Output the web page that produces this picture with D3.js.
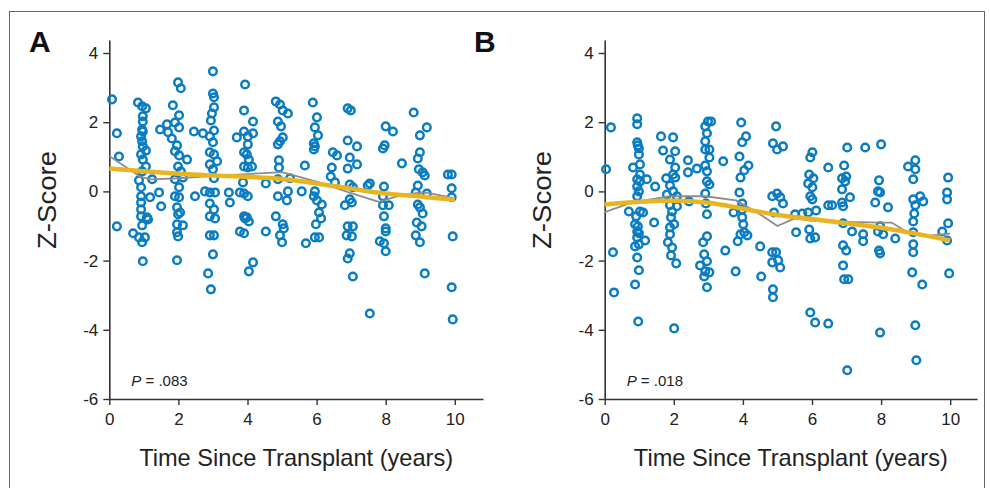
<!DOCTYPE html>
<html><head><meta charset="utf-8">
<script src="https://cdn.jsdelivr.net/npm/d3@7"></script>
<style>html,body{margin:0;padding:0;background:#fff;} svg{display:block;}</style>
</head><body><svg id="c" width="990" height="488"></svg>
<script>
const xTicks = [0, 2, 4, 6, 8, 10];
const yTicks = [-6, -4, -2, 0, 2, 4];
const panelLetters = ["A", "B"];
const pValues = [".083", ".018"];
const xTitle = "Time Since Transplant (years)";
const yTitle = "Z-Score";

const pointsA = [
[0.08,2.66],[0.22,1.68],[0.28,1.01],[0.22,-1.01],
[0.83,2.57],[0.95,2.46],[1.06,2.40],[0.97,2.17],[0.97,2.02],[0.95,1.79],[0.97,1.73],[0.92,1.59],[0.95,1.45],[0.97,1.30],[1.06,1.18],[0.92,1.07],[0.97,0.92],[1.06,0.72],[0.95,0.58],[1.24,0.35],[0.86,0.32],[0.92,0.12],[0.92,-0.14],[1.18,-0.17],[0.92,-0.32],[0.92,-0.52],[1.09,-0.75],[0.69,-1.21],[0.86,-1.33],[0.95,-0.98],[1.12,-0.81],[0.92,-0.72],[0.95,-1.47],[1.03,-1.33],[0.97,-2.02],
[1.47,1.79],[1.67,1.94],[1.70,1.71],[1.44,-0.03],[1.50,-0.43],
[1.99,3.15],[2.07,2.98],[1.84,2.49],[2.02,2.20],[1.90,1.99],[2.02,1.85],[1.81,1.53],[1.96,1.33],[1.90,1.16],[2.02,1.04],[2.25,0.92],[1.99,0.72],[2.07,0.58],[1.90,0.35],[2.13,0.40],[2.02,0.12],[1.90,-0.14],[2.02,-0.17],[1.96,-0.46],[2.05,-0.61],[1.99,-0.66],[1.96,-0.95],[2.13,-0.98],[1.96,-1.18],[1.99,-1.30],[1.96,-1.99],
[2.45,1.73],[2.71,1.68],[2.48,-0.14],
[3.00,3.47],[3.00,2.83],[3.03,2.72],[3.03,2.43],[2.97,2.25],[2.94,2.05],[3.03,1.76],[2.91,1.59],[3.00,1.42],[2.91,1.13],[3.03,1.07],[3.12,0.87],[2.91,0.78],[3.00,0.64],[3.03,0.38],[2.77,0.00],[2.91,-0.03],[3.06,-0.03],[2.91,-0.35],[3.03,-0.52],[2.91,-0.72],[3.06,-0.78],[2.91,-1.27],[3.03,-1.27],[3.00,-1.82],[2.86,-2.37],[2.94,-2.83],
[3.46,-0.03],[3.49,-0.32],
[3.93,3.09],[3.90,2.34],[4.16,2.02],[3.69,1.56],[3.90,1.73],[4.01,1.59],[4.16,1.68],[4.01,1.36],[3.90,1.13],[3.98,1.07],[4.04,0.92],[3.90,0.72],[4.01,0.69],[4.13,0.72],[3.87,0.26],[3.78,-0.03],[3.90,-0.06],[4.01,-0.14],[3.90,-0.72],[3.98,-0.75],[3.78,-1.16],[3.90,-1.21],[3.93,-0.78],[4.04,-0.87],[4.16,-2.05],[4.04,-2.31],
[4.53,0.23],[4.53,-1.16],
[4.82,2.60],[4.94,2.51],[5.02,2.34],[5.17,2.25],[4.88,2.02],[4.97,1.88],[5.02,1.56],[4.94,1.45],[4.88,1.36],[4.91,0.90],[4.91,0.69],[4.88,0.35],[5.17,0.00],[4.88,-0.14],[5.14,-0.26],[4.82,-0.72],[5.02,-0.95],[5.05,-1.07],[4.94,-1.27],[5.00,-1.47],
[5.69,-1.50],[5.66,0.75],[5.57,0.00],[5.23,0.38],
[5.89,2.57],[6.01,2.14],[5.95,1.85],[6.04,1.62],[5.92,1.39],[5.95,1.30],[5.92,1.21],[5.95,0.00],[5.92,-0.14],[6.01,-0.26],[6.15,-0.38],[6.07,-0.61],[6.13,-0.78],[5.98,-0.95],[5.95,-1.33],[6.07,-1.33],
[6.47,1.13],[6.59,1.04],[6.44,0.69],[6.41,0.43],[6.53,0.26],
[6.90,2.40],[6.99,2.34],[6.90,1.47],[7.17,1.30],[6.96,0.98],[7.17,0.78],[6.90,0.66],[6.96,0.20],[7.05,0.12],[6.96,-0.23],[7.02,-0.32],[6.82,-0.40],[6.90,-1.01],[7.05,-1.01],[6.87,-1.27],[7.02,-1.30],[6.96,-1.79],[6.90,-1.94],[7.05,-2.46],
[7.54,0.23],[7.48,0.17],[7.54,-3.53],
[8.00,1.88],[8.21,1.73],[7.97,1.33],[7.92,1.24],[8.47,0.81],[7.95,0.14],[7.92,-0.14],[7.92,-0.40],[8.09,-0.40],[7.95,-0.72],[8.00,-1.07],[8.00,-1.16],[7.83,-1.44],[7.95,-1.50],[8.00,-1.73],
[8.81,2.28],[9.19,1.85],[8.99,1.62],[8.99,1.13],[8.93,0.95],[8.96,0.64],[9.07,0.55],[9.13,0.46],[8.93,0.17],[8.87,-0.03],[9.19,-0.06],[8.93,-0.38],[8.99,-0.46],[9.07,-0.64],[8.90,-0.90],[9.04,-1.01],[8.87,-1.27],[8.99,-1.47],[9.13,-2.37],
[9.80,0.49],[9.91,0.49],[9.91,0.09],[9.91,-0.17],[9.94,-1.30],[9.91,-2.77],[9.94,-3.70]
];

const pointsB = [
[0.18,1.85],[0.04,0.64],[0.24,-1.76],[0.27,-2.92],
[0.94,2.11],[0.94,1.94],[0.94,1.42],[0.96,1.33],[0.99,1.24],[0.99,1.07],[0.82,0.69],[1.02,0.78],[1.02,0.49],[0.94,0.35],[1.02,0.29],[1.22,0.35],[0.94,0.14],[0.99,0.00],[0.94,-0.14],[1.46,0.14],[0.70,-0.58],[1.02,-0.58],[1.11,-0.61],[0.97,-3.76],[0.88,-2.69],[0.99,-2.28],[0.94,-1.91],[0.99,-1.53],[0.88,-1.59],[0.94,-1.33],[0.94,-1.16],[0.99,-1.21],[1.17,-1.42],[0.88,-0.95],[0.96,-1.01],[0.91,-0.72],[1.43,-0.90],
[1.63,1.59],[1.69,1.18],[1.98,1.56],[2.04,1.16],[1.89,0.92],[2.04,0.69],[1.98,0.49],[2.04,0.40],[1.78,0.38],[1.89,0.17],[1.98,0.00],[1.80,-0.09],[2.09,-0.14],[1.89,-0.40],[1.95,-0.58],[2.09,-0.43],[2.01,-3.96],[2.07,-2.08],[1.92,-1.85],[1.95,-1.62],[1.83,-1.47],[1.89,-1.24],[2.01,-0.95],[1.89,-1.04],[1.92,-0.75],
[2.41,0.90],[2.41,0.55],[2.67,0.66],[2.44,-0.29],
[2.99,2.02],[3.08,2.02],[2.91,1.88],[2.96,1.68],[2.91,1.45],[2.91,1.21],[3.03,1.21],[3.03,0.98],[2.91,0.75],[2.96,0.58],[2.96,0.29],[3.03,0.20],[2.91,-0.06],[2.93,-0.35],[2.96,-0.66],[2.76,-2.14],[2.91,-2.31],[2.96,-2.77],[2.88,-2.46],[3.03,-2.34],[2.96,-2.02],[2.88,-1.82],[2.85,-1.47],[2.96,-1.30],
[3.43,0.87],[3.49,-1.71],
[3.95,1.99],[4.09,1.59],[3.98,1.42],[3.90,1.01],[4.16,0.75],[4.04,0.61],[3.93,0.40],[3.90,-0.03],[3.98,-0.35],[3.73,-0.61],[3.98,-0.52],[3.79,-2.31],[3.85,-1.44],[3.93,-1.24],[4.04,-1.18],[4.13,-1.27],[4.01,-0.95],[3.98,-0.75],
[4.50,-1.59],[4.53,-2.46],
[4.96,1.88],[4.87,1.39],[5.16,1.30],[4.99,1.21],[4.85,-0.14],[4.99,-0.06],[5.08,-0.17],[5.16,-0.35],[4.85,-1.76],[4.96,-1.76],[4.85,-2.05],[5.02,-1.99],[5.08,-2.20],[4.87,-2.83],[4.87,-3.06],[4.90,-0.61],
[5.51,-0.66],[5.72,-0.64],[5.54,-1.18],[5.92,-1.10],[5.95,-1.36],[6.09,-1.33],
[6.01,1.13],[5.95,0.98],[5.92,0.49],[6.04,0.38],[5.89,0.23],[6.01,0.12],[5.95,-0.14],[6.01,-0.23],[5.89,-0.61],[6.12,-0.55],[5.95,-3.50],[6.09,-3.79],
[6.47,0.69],[6.47,-0.40],[6.58,-0.40],[6.47,-3.82],
[6.93,0.75],[7.02,1.27],[6.87,0.38],[6.99,0.43],[6.96,0.29],[6.87,0.06],[6.87,-0.32],[7.10,-0.17],[6.90,-0.43],[6.90,-1.56],[6.99,-1.71],[6.90,-2.14],[6.93,-2.54],[7.05,-2.54],[7.02,-5.17],[7.16,-1.16],[6.90,-0.92],
[7.54,1.27],[7.48,-1.24],[7.48,-1.44],
[8.00,1.36],[7.94,0.32],[7.91,0.00],[7.97,-0.03],[7.83,-0.32],[8.20,-0.46],[7.91,-1.16],[7.94,-1.71],[7.97,-1.79],[7.97,-4.08],[7.97,-1.01],[8.06,-1.24],
[8.41,-1.36],
[8.78,0.72],[8.99,0.90],[8.99,0.64],[8.93,0.35],[8.93,-0.23],[9.13,-0.14],[9.22,-0.29],[8.99,-0.40],[8.96,-0.64],[8.93,-0.87],[8.93,-1.18],[8.93,-1.53],[8.93,-1.76],[8.90,-2.34],[9.19,-2.69],[8.99,-3.87],[9.02,-4.88],
[9.94,0.40],[9.91,-0.03],[9.91,-0.23],[9.94,-0.92],[9.77,-1.16],[9.91,-1.42],[9.97,-2.37]
];

// smoothed (gray) and fitted (yellow) curves
const grayA_x = [0, 0.9, 1.2, 2, 3, 4, 5, 5.5, 6, 7, 7.8, 8.3, 9, 9.3, 10];
const grayA_y = [1.02, 0.42, 0.35, 0.38, 0.45, 0.5, 0.56, 0.42, 0.28, -0.05, -0.3, -0.15, -0.03, -0.06, -0.2];
const fitA_x = [0, 1, 2, 3, 4, 5, 6, 7, 8, 9, 10];
const fitA_y = [0.66, 0.58, 0.51, 0.46, 0.42, 0.36, 0.23, 0.08, -0.06, -0.15, -0.24];
const grayB_x = [0, 0.8, 1.9, 2.9, 3.8, 4.4, 5.0, 5.5, 6.0, 7.0, 8.0, 8.3, 8.8, 9.2, 10];
const grayB_y = [-0.6, -0.32, -0.14, -0.14, -0.26, -0.6, -1.0, -0.78, -0.85, -0.88, -0.9, -0.9, -1.2, -1.3, -1.22];
const fitB_x = [0, 1, 2, 3, 4, 5, 6, 7, 8, 9, 10];
const fitB_y = [-0.38, -0.3, -0.27, -0.33, -0.5, -0.68, -0.8, -0.92, -1.05, -1.22, -1.42];

const BLUE = "#0a7cc2", YELLOW = "#e8b520", GRAY = "#8c8c8c", AXIS = "#333";
const FONT = "'Liberation Sans', Arial, Helvetica, sans-serif";

const svg = d3.select("#c");
svg.append("rect").attr("x", 9.5).attr("y", 11.5).attr("width", 975).attr("height", 520)
  .attr("fill", "none").attr("stroke", "#666").attr("stroke-width", 1);

const panels = [
  {letter: panelLetters[0], p: pValues[0], pts: pointsA, gx: grayA_x, gy: grayA_y, fx: fitA_x, fy: fitA_y, x0: 109.3, xEnd: 483, lx: 29, ylx: 47},
  {letter: panelLetters[1], p: pValues[1], pts: pointsB, gx: grayB_x, gy: grayB_y, fx: fitB_x, fy: fitB_y, x0: 604.7, xEnd: 977, lx: 474, ylx: 542}
];
const pxPerX = 34.55;
const yTop = 40, yBot = 399, pxPerY = 34.6;

panels.forEach(P => {
  const x = d3.scaleLinear().domain([0, (P.xEnd - P.x0) / pxPerX]).range([P.x0, P.xEnd]);
  const y = d3.scaleLinear().domain([-6, -6 + (yBot - yTop) / pxPerY]).range([yBot, yTop]);
  const g = svg.append("g");

  // axes
  const ya = g.append("g").attr("transform", `translate(${P.x0},0)`)
    .call(d3.axisLeft(y).tickValues(yTicks).tickSizeInner(6).tickSizeOuter(0).tickPadding(5).tickFormat(d => String(d)));
  const xa = g.append("g").attr("transform", `translate(0,${yBot})`)
    .call(d3.axisBottom(x).tickValues(xTicks).tickSizeInner(6).tickSizeOuter(0).tickPadding(8).tickFormat(d => String(d)));
  [ya, xa].forEach(a => {
    a.selectAll("path.domain").attr("stroke", AXIS).attr("stroke-width", 1.6);
    a.selectAll(".tick line").attr("stroke", AXIS).attr("stroke-width", 1.4);
    a.selectAll(".tick text").attr("fill", "#222").style("font-family", FONT).style("font-size", "17px");
  });

  // points
  g.append("g").selectAll("circle").data(P.pts).join("circle")
    .attr("cx", d => x(d[0])).attr("cy", d => y(d[1])).attr("r", 3.8)
    .attr("fill", "none").attr("stroke", BLUE).attr("stroke-width", 2.5);

  // lines
  const gray = P.gx.map((v, i) => [v, P.gy[i]]);
  const fit = P.fx.map((v, i) => [v, P.fy[i]]);
  g.append("path").datum(gray).attr("d", d3.line().x(d => x(d[0])).y(d => y(d[1])))
    .attr("fill", "none").attr("stroke", GRAY).attr("stroke-width", 1.8).attr("stroke-linejoin", "round");
  g.append("path").datum(fit).attr("d", d3.line().curve(d3.curveMonotoneX).x(d => x(d[0])).y(d => y(d[1])))
    .attr("fill", "none").attr("stroke", YELLOW).attr("stroke-width", 4.5).attr("stroke-linecap", "butt");

  // P value
  const pt = g.append("text").attr("x", P.x0 + 22).attr("y", 386)
    .style("font-family", FONT).style("font-size", "15px").attr("fill", "#222");
  pt.append("tspan").style("font-style", "italic").text("P");
  pt.append("tspan").text(" = " + P.p);

  // titles
  g.append("text").attr("x", (P.x0 + P.xEnd) / 2).attr("y", 466).attr("text-anchor", "middle")
    .attr("textLength", 314).attr("lengthAdjust", "spacingAndGlyphs")
    .style("font-family", FONT).style("font-size", "24px").attr("fill", "#222").text(xTitle);
  g.append("text").attr("transform", `translate(${P.ylx + 9},200) rotate(-90)`).attr("text-anchor", "middle")
    .attr("textLength", 98).attr("lengthAdjust", "spacingAndGlyphs")
    .style("font-family", FONT).style("font-size", "25px").attr("fill", "#222").text(yTitle);

  g.append("text").attr("x", P.lx).attr("y", 52)
    .style("font-family", FONT).style("font-size", "30px").style("font-weight", "bold").attr("fill", "#111").text(P.letter);
});
</script></body></html>
